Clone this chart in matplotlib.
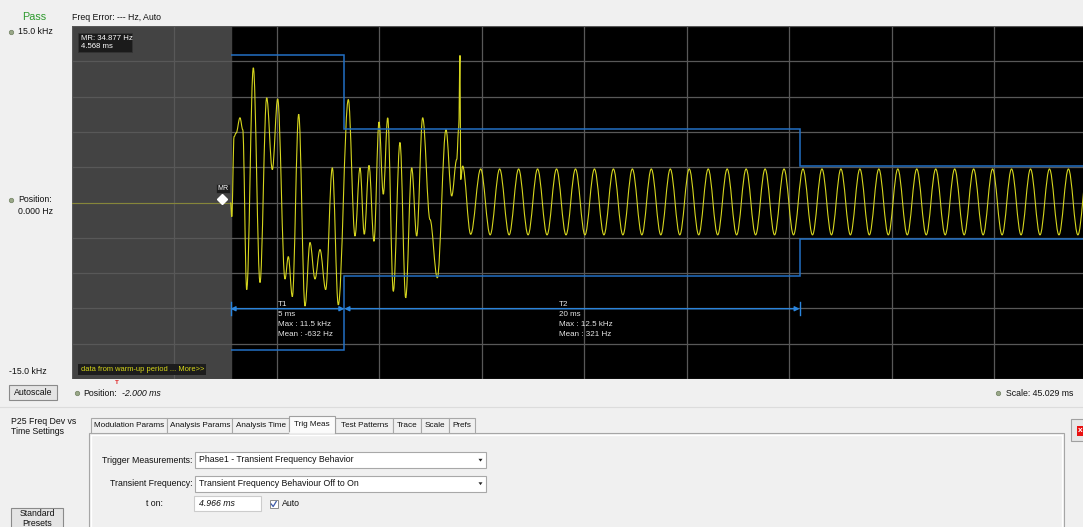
import matplotlib
matplotlib.use('Agg')
import matplotlib.pyplot as plt
from matplotlib.path import Path
from matplotlib.patches import PathPatch, Rectangle, Polygon

plt.rcParams['font.family'] = ['Liberation Sans', 'DejaVu Sans']

# ---------------- data ----------------
x_position_ms = -2.000
x_scale_ms = 45.029
y_min_khz, y_max_khz = -15.0, 15.0
n_div = 10

t_on_ms = 4.966
marker_t_ms = 4.568
marker_f_khz = 0.034877

# warm-up (before t_on) trace
warmup_t = [-2.0, 4.966]
warmup_f = [0.0, 0.0]

# transient part of the trace: local extrema (ms, kHz)
transient_t = [4.966, 5.02, 5.12, 5.21, 5.38, 5.50, 5.675, 5.966, 6.259, 6.553,
               6.800, 7.036, 7.357, 7.503, 7.679, 7.959, 8.236, 8.456, 8.675, 8.895,
               9.145, 9.436, 9.699, 10.139, 10.432, 10.652, 10.841, 11.048, 11.267,
               11.487, 11.676, 11.869, 12.115, 12.409, 12.660, 12.923, 13.143, 13.406,
               13.727, 14.048, 14.430, 14.680, 14.900, 14.988, 15.045, 15.075, 15.163,
               15.515]
transient_f = [0.0, -1.2, 5.6, 5.9, 7.2, 6.2, -7.4, 11.45, -6.8, 8.9,
               2.8, 8.8, -6.5, -4.6, -8.0, 7.5, -8.8, -3.4, -6.5, -4.0,
               -7.4, 2.95, -8.7, 8.75, -2.85, 2.95, -2.7, 3.15, -3.3,
               6.85, 0.7, 7.2, -7.55, 5.1, -8.1, 2.95, -2.85, 7.2,
               -1.45, -6.4, 6.2, 0.55, 3.65, 6.35, 12.5, 1.95, 3.1,
               -2.7]

# steady tone part of the trace: peaks and troughs (ms, kHz)
tone_t = [15.954, 16.370, 16.787, 17.203, 17.620, 18.036, 18.453, 18.869, 19.286, 19.702,
          20.119, 20.535, 20.951, 21.368, 21.784, 22.201, 22.617, 23.034, 23.450, 23.867,
          24.283, 24.700, 25.116, 25.532, 25.949, 26.365, 26.782, 27.198, 27.615, 28.031,
          28.448, 28.864, 29.280, 29.697, 30.113, 30.530, 30.946, 31.363, 31.779, 32.196,
          32.612, 33.028, 33.445, 33.861, 34.278, 34.694, 35.111, 35.527, 35.944, 36.360,
          36.777, 37.193, 37.609, 38.026, 38.442, 38.859, 39.275, 39.692, 40.108, 40.525,
          40.941, 41.357, 41.774, 42.190, 42.607, 43.023]
tone_f = [2.85, -2.75, 2.85, -2.75, 2.85, -2.75, 2.85, -2.75, 2.85, -2.75,
          2.85, -2.75, 2.85, -2.75, 2.85, -2.75, 2.85, -2.75, 2.85, -2.75,
          2.85, -2.75, 2.85, -2.75, 2.85, -2.75, 2.85, -2.75, 2.85, -2.75,
          2.85, -2.75, 2.85, -2.75, 2.85, -2.75, 2.85, -2.75, 2.85, -2.75,
          2.85, -2.75, 2.85, -2.75, 2.85, -2.75, 2.85, -2.75, 2.85, -2.75,
          2.85, -2.75, 2.85, -2.75, 2.85, -2.75, 2.85, -2.75, 2.85, -2.75,
          2.85, -2.75, 2.85, -2.75, 2.85, -2.75]

# limit mask
mask_edges = [4.966, 9.966, 29.966, 43.029]
mask_upper = [12.5, 6.25, 3.125]
mask_lower = [-12.5, -6.25, -3.125]

# measurement intervals
meas_names = ['T1', 'T2']
meas_start = [4.966, 9.966]
meas_end = [9.966, 29.966]
meas_dur = ['5 ms', '20 ms']
meas_max = ['Max : 11.5 kHz', 'Max : 12.5 kHz']
meas_mean = ['Mean : -632 Hz', 'Mean : 321 Hz']
meas_arrow_f = -9.03

tabs = ['Modulation Params', 'Analysis Params', 'Analysis Time', 'Trig Meas',
        'Test Patterns', 'Trace', 'Scale', 'Prefs']
selected_tab = 'Trig Meas'

# ---------------- figure ----------------
W, H = 1083, 527
BG = '#f0f0f0'
fig = plt.figure(figsize=(W / 100, H / 100), dpi=100, facecolor=BG)

px_l, px_t, px_w, px_h = 72, 26, 1025, 353
ax = fig.add_axes([px_l / W, 1 - (px_t + px_h) / H, px_w / W, px_h / H], zorder=1)
ax.set_facecolor('black')
x_max = x_position_ms + x_scale_ms
ax.set_xlim(x_position_ms, x_max)
ax.set_ylim(y_min_khz, y_max_khz)
ax.set_xticks([x_position_ms + i * x_scale_ms / n_div for i in range(n_div + 1)])
ax.set_yticks([y_min_khz + i * (y_max_khz - y_min_khz) / n_div for i in range(n_div + 1)])
ax.tick_params(length=0, labelbottom=False, labelleft=False)
for s in ax.spines.values():
    s.set_visible(False)
ax.set_axisbelow('line')
ax.grid(True, color='#585858', lw=0.9)

# warm-up shaded region
ax.axvspan(x_position_ms, t_on_ms, color='#434343', zorder=1)

# warm-up trace
ax.plot(warmup_t, warmup_f, color='#86863a', lw=0.8, zorder=3)

# main trace: smooth curve through the extrema (Bezier segments, horizontal tangents)
pts_t = transient_t + tone_t
pts_f = transient_f + tone_f
a = 0.363
verts = [(pts_t[0], pts_f[0])]
codes = [Path.MOVETO]
for i in range(len(pts_t) - 1):
    t0, f0, t1, f1 = pts_t[i], pts_f[i], pts_t[i + 1], pts_f[i + 1]
    dt = t1 - t0
    verts += [(t0 + a * dt, f0), (t1 - a * dt, f1), (t1, f1)]
    codes += [Path.CURVE4, Path.CURVE4, Path.CURVE4]
ax.add_patch(PathPatch(Path(verts, codes), fill=False, edgecolor='#d6d61e',
                       lw=0.8, zorder=4))

# limit mask
mask_col = '#2270c4'
ax.stairs(mask_upper, mask_edges, baseline=None, color=mask_col, lw=1.1, zorder=5)
ax.stairs(mask_lower, mask_edges, baseline=None, color=mask_col, lw=1.1, zorder=5)

# measurement arrows
for s0, s1 in zip(meas_start, meas_end):
    ax.annotate('', xy=(s1, meas_arrow_f), xytext=(s0, meas_arrow_f),
                arrowprops=dict(arrowstyle='<|-|>', color='#2a86e0', lw=1.0,
                                shrinkA=0, shrinkB=0, mutation_scale=7),
                zorder=6)
ax.plot([meas_start[0], meas_start[0]], [meas_arrow_f - 0.55, meas_arrow_f + 0.55],
        color='#2a86e0', lw=1.0, zorder=6)
ax.plot([meas_end[-1], meas_end[-1]], [meas_arrow_f - 0.55, meas_arrow_f + 0.55],
        color='#2a86e0', lw=1.0, zorder=6)

# marker MR
ax.plot([marker_t_ms], [marker_f_khz + 0.3], marker='D', ms=5.5, color='white',
        mec='white', zorder=7)

# ---------------- UI overlay in pixel coordinates ----------------
ui = fig.add_axes([0, 0, 1, 1], zorder=2)
ui.set_xlim(0, W)
ui.set_ylim(H, 0)
ui.axis('off')
ui.patch.set_visible(False)

FS = 6.3


def txt(x, y, s, fs=FS, ha='left', **kw):
    ui.text(x, y, s, fontsize=fs, ha=ha, va='center', **kw)


def rect(x, y, w, h, **kw):
    ui.add_patch(Rectangle((x, y), w, h, **kw))


def dot(x, y):
    ui.plot([x], [y], 'o', ms=3.2, color='#9aa888', mec='#6f7f60', mew=0.5)


# top labels
txt(22, 17, 'Pass', fs=7.8, color='#2e9a2e')
txt(72, 18, 'Freq Error: --- Hz, Auto', color='#111111')
dot(11, 32)
txt(18, 32, '15.0 kHz', color='#111111')
dot(11, 200)
txt(18, 199, 'Position:', color='#111111')
txt(18, 211, '0.000 Hz', color='#111111')
txt(9, 372, '-15.0 kHz', color='#111111')

# autoscale button
rect(9, 385, 48, 15, fc='#e4e4e4', ec='#8a8a8a', lw=0.8)
txt(33, 392.5, 'Autoscale', ha='center', color='#111111')

# x position / scale
dot(77, 393)
txt(83, 393, 'Position:', color='#111111')
txt(122, 393, '-2.000 ms', color='#111111', style='italic')
txt(117.3, 382.5, 'T', fs=4.5, ha='center', color='#e02020', fontweight='bold')
dot(998, 393)
txt(1006, 393, 'Scale: 45.029 ms', color='#111111')

# in-plot boxes
rect(78, 33, 54, 19, fc='#1b1b1b', ec='#333333', lw=0.6)
txt(81, 38.5, 'MR: 34.877 Hz', fs=5.6, color='white')
txt(81, 46.5, '4.568 ms', fs=5.6, color='white')
rect(78, 364, 128, 11, fc='#1c1c1c', ec='none')
txt(81, 369.5, 'data from warm-up period ... More>>', fs=5.4, color='#d8d81a')
rect(216, 184, 13.5, 9, fc='#1c1c1c', ec='#444444', lw=0.5)
txt(222.7, 188.5, 'MR', fs=5.0, ha='center', color='white')

# measurement labels
for (xl, name, d, mx, mn) in zip([278, 559], meas_names, meas_dur, meas_max, meas_mean):
    for yy, s in zip([304, 314, 324.5, 334.5], [name, d, mx, mn]):
        txt(xl, yy, s, fs=5.8, color='#e6e6e6')

# ---------------- settings panel ----------------
ui.plot([0, W], [407, 407], color='#dcdcdc', lw=0.8)
txt(11, 421.5, 'P25 Freq Dev vs', color='#111111')
txt(11, 431, 'Time Settings', color='#111111')

rect(89, 432.5, 975, 100, fc='#f0f0f0', ec='#a6a6a6', lw=0.8)
rect(91, 434.5, 971, 100, fill=False, ec='white', lw=1.0)

tab_x = [90.7, 167.3, 232.3, 289.3, 335.0, 393.3, 420.7, 449.0, 475.0]
for i, name in enumerate(tabs):
    x0, x1 = tab_x[i], tab_x[i + 1]
    if name == selected_tab:
        rect(x0, 415.5, x1 - x0, 17.5, fc='#fbfbfb', ec='#a0a0a0', lw=0.8, zorder=3)
        ui.plot([x0 + 0.6, x1 - 0.6], [433, 433], color='#fbfbfb', lw=1.2, zorder=4)
        txt((x0 + x1) / 2, 424, name, fs=5.9, ha='center', color='#111111', zorder=5)
    else:
        rect(x0, 418, x1 - x0, 14.5, fc='#f0f0f0', ec='#a8a8a8', lw=0.8)
        txt((x0 + x1) / 2, 425.5, name, fs=5.9, ha='center', color='#111111')

# combos
for yc, label, val in [(460, 'Trigger Measurements:', 'Phase1 - Transient Frequency Behavior'),
                       (483.5, 'Transient Frequency:', 'Transient Frequency Behaviour Off to On')]:
    txt(192.5, yc + 0.5, label, ha='right', color='#111111')
    rect(194.5, yc - 8, 291, 16, fc='white', ec='#a8a8a8', lw=0.8)
    txt(199, yc, val, color='#111111')
    ui.add_patch(Polygon([[478.5, yc - 1.2], [482.5, yc - 1.2], [480.5, yc + 1.6]],
                         closed=True, fc='#222222', ec='none'))

txt(146, 504, 't on:', color='#111111')
rect(194, 496, 67, 15, fc='white', ec='#cccccc', lw=0.8)
txt(199, 503, '4.966 ms', color='#111111', style='italic')
rect(269.5, 500, 8, 8, fc='white', ec='#8a8a8a', lw=0.7)
ui.plot([271.2, 273.2, 276.2], [504, 506.5, 501.5], color='#3d5aa8', lw=0.9)
txt(282, 504, 'Auto', color='#111111')

rect(11, 507.5, 52, 25, fc='#e4e4e4', ec='#8a8a8a', lw=0.8)
txt(37, 514, 'Standard', ha='center', color='#111111')
txt(37, 523.5, 'Presets', ha='center', color='#111111')

rect(1070.5, 419, 20, 22, fc='#e6e6e6', ec='#a0a0a0', lw=0.8)
rect(1076.5, 425.5, 10, 10, fc='#e81010', ec='none')
txt(1080.5, 430.3, 'x', fs=6, ha='center', color='white', fontweight='bold')

fig.savefig('out.png', dpi=100, facecolor=BG)
